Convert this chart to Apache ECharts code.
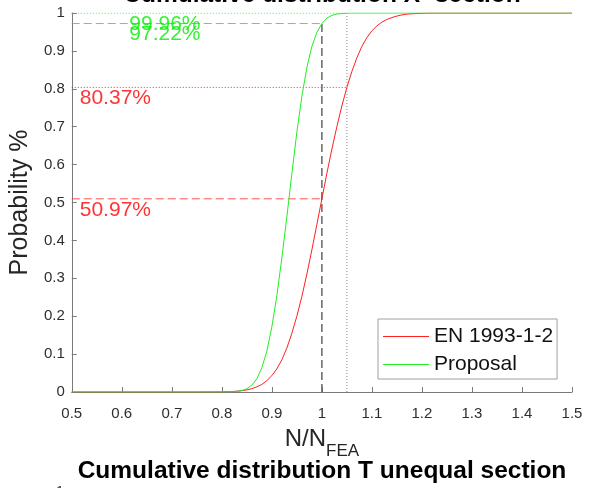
<!DOCTYPE html>
<html>
<head>
<meta charset="utf-8">
<script src="https://cdn.jsdelivr.net/npm/echarts@6/dist/echarts.min.js"></script>
<style>
  html, body { margin: 0; padding: 0; background: #fff; }
  #chart { width: 602px; height: 488px; }
</style>
</head>
<body>
<div id="chart"></div>
<script>
// N/N_FEA sample points shared by both cumulative curves
const ratio = [
  0.5, 0.6, 0.7, 0.75, 0.8, 0.82, 0.83,
  0.84, 0.85, 0.86, 0.87, 0.88, 0.89, 0.90, 0.91, 0.92, 0.93, 0.94, 0.95,
  0.96, 0.97, 0.98, 0.99, 1.00, 1.01, 1.02, 1.03, 1.04, 1.05, 1.06, 1.07,
  1.08, 1.09, 1.10, 1.11, 1.12, 1.13, 1.14, 1.15, 1.16, 1.17, 1.18,
  1.20, 1.22, 1.25, 1.3, 1.4, 1.5
];
// Cumulative probability, EN 1993-1-2
const probEN = [
  0, 0, 0, 0, 0.0004, 0.0012, 0.0022,
  0.0035, 0.0055, 0.0088, 0.0135, 0.020, 0.030, 0.043, 0.061, 0.085, 0.116, 0.155, 0.200,
  0.252, 0.311, 0.375, 0.442, 0.5097, 0.577, 0.641, 0.700, 0.755, 0.8037, 0.846, 0.882,
  0.912, 0.935, 0.953, 0.966, 0.976, 0.983, 0.988, 0.992, 0.995, 0.997, 0.998,
  0.9993, 0.9998, 1, 1, 1, 1
];
// Cumulative probability, proposed method
const probProposal = [
  0, 0, 0, 0, 0.0001, 0.0006, 0.0015,
  0.0038, 0.0085, 0.018, 0.035, 0.064, 0.108, 0.172, 0.254, 0.354, 0.462, 0.576, 0.686,
  0.780, 0.856, 0.912, 0.949, 0.9722, 0.9865, 0.9938, 0.9973, 0.9989, 0.9996, 0.9999, 1,
  1, 1, 1, 1, 1, 1, 1, 1, 1, 1, 1,
  1, 1, 1, 1, 1, 1
];
// Reference ratios and the probabilities read at them
const refRatio = [1.0, 1.05];
const pctEN = [50.97, 80.37];
const pctProposal = [97.22, 99.96];

const xTickLabels = ['0.5', '0.6', '0.7', '0.8', '0.9', '1', '1.1', '1.2', '1.3', '1.4', '1.5'];
const yTickLabels = ['0', '0.1', '0.2', '0.3', '0.4', '0.5', '0.6', '0.7', '0.8', '0.9', '1'];

const FONT = '"Liberation Sans", Arial, Helvetica, sans-serif';
const RED = '#ff2020';
const GREEN = '#22ee22';
const AXIS_CX = 322;   // horizontal centre of the plot area

const pairs = (ys) => ratio.map((x, i) => [x, ys[i]]);

function hLine(name, y, xEnd, color, type) {
  return {
    name, type: 'line', symbol: 'none', silent: true, z: 3,
    data: [[0.5, y], [xEnd, y]],
    lineStyle: { color, width: 1, type }
  };
}

function pctLabels(name, pcts, xAnchor, color) {
  return {
    name, type: 'scatter', symbolSize: 1, silent: true, z: 5,
    itemStyle: { color: 'transparent' },
    data: pcts.map(p => [xAnchor, p / 100]),
    label: {
      show: true,
      position: [0, 1],
      align: 'left',
      verticalAlign: 'top',
      fontFamily: FONT,
      fontSize: 21,
      color,
      formatter: (p) => (p.value[1] * 100).toFixed(2) + '%'
    }
  };
}

const chart = echarts.init(document.getElementById('chart'), null, { renderer: 'canvas' });

chart.setOption({
  animation: false,
  backgroundColor: '#fff',
  grid: { left: 71, right: 30, top: 13, bottom: 96 },
  xAxis: {
    type: 'value', min: 0.5, max: 1.5, interval: 0.1,
    axisLine: { lineStyle: { color: '#7a7a7a', width: 1 } },
    axisTick: { inside: true, length: 5, lineStyle: { color: '#7a7a7a' } },
    splitLine: { show: false },
    axisLabel: {
      margin: 14, fontFamily: FONT, fontSize: 15, color: '#2e2e2e',
      formatter: (v) => xTickLabels[Math.round((v - 0.5) * 10)]
    },
    name: '{a|N/N}{b|FEA}',
    nameLocation: 'middle',
    nameGap: 35,
    nameTextStyle: {
      rich: {
        a: { fontFamily: FONT, fontSize: 24, color: '#262626', verticalAlign: 'top', lineHeight: 24 },
        b: { fontFamily: FONT, fontSize: 17, color: '#262626', verticalAlign: 'top', lineHeight: 17, padding: [16, 0, 0, 0] }
      }
    }
  },
  yAxis: {
    type: 'value', min: 0, max: 1, interval: 0.1,
    axisLine: { show: true, lineStyle: { color: '#7a7a7a', width: 1 } },
    axisTick: { show: true, inside: true, length: 5, lineStyle: { color: '#7a7a7a' } },
    splitLine: { show: false },
    axisLabel: {
      margin: 7, fontFamily: FONT, fontSize: 15, color: '#2e2e2e',
      formatter: (v) => yTickLabels[Math.round(v * 10)]
    },
    name: 'Probability %',
    nameLocation: 'middle',
    nameGap: 34,
    nameTextStyle: { fontFamily: FONT, fontSize: 25, color: '#262626' }
  },
  legend: {
    data: ['EN 1993-1-2', 'Proposal'],
    orient: 'vertical',
    left: 378, top: 319,
    padding: [7, 4, 4, 5],
    itemGap: 7,
    icon: 'rect',
    itemWidth: 46, itemHeight: 1,
    itemTextGap: 4,
    backgroundColor: '#fff',
    borderColor: '#a0a0a0', borderWidth: 1, borderRadius: 0,
    textStyle: { fontFamily: FONT, fontSize: 21, color: '#111' },
    selectedMode: false
  },
  series: [
    {
      name: 'EN 1993-1-2', type: 'line', symbol: 'none', z: 4,
      data: pairs(probEN),
      lineStyle: { color: RED, width: 1 },
      itemStyle: { color: RED }
    },
    {
      name: 'Proposal', type: 'line', symbol: 'none', z: 4,
      data: pairs(probProposal),
      lineStyle: { color: GREEN, width: 1 },
      itemStyle: { color: GREEN }
    },
    hLine('en-ref-1', pctEN[0] / 100, refRatio[0], 'rgba(255,40,40,0.8)', [8, 4]),
    hLine('en-ref-2', pctEN[1] / 100, refRatio[1], 'rgba(255,30,30,0.95)', [1, 2]),
    hLine('prop-ref-1', pctProposal[0] / 100, refRatio[0], 'rgba(40,230,40,0.85)', [8, 4]),
    hLine('prop-ref-2', pctProposal[1] / 100, refRatio[1], 'rgba(40,230,40,0.95)', [1, 2]),
    {
      name: 'ratio-1', type: 'line', symbol: 'none', silent: true, z: 2,
      data: [[refRatio[0], 0], [refRatio[0], pctProposal[0] / 100]],
      lineStyle: { color: '#666', width: 1.5, type: [8, 4] }
    },
    {
      name: 'ratio-2', type: 'line', symbol: 'none', silent: true, z: 2,
      data: [[refRatio[1], 0], [refRatio[1], pctProposal[1] / 100]],
      lineStyle: { color: '#888', width: 1, type: [1, 2] }
    },
    pctLabels('en-pct', pctEN, 0.517, '#ff0000'),
    pctLabels('prop-pct', pctProposal, 0.616, '#00ee00')
  ],
  graphic: [
    {
      type: 'text', x: AXIS_CX, y: -17, silent: true,
      style: {
        text: 'Cumulative distribution X- section',
        font: 'bold 24.5px ' + FONT, fill: '#000', align: 'center'
      }
    },
    {
      type: 'text', x: AXIS_CX, y: 459, silent: true,
      style: {
        text: 'Cumulative distribution T unequal section',
        font: 'bold 24.5px ' + FONT, fill: '#000', align: 'center'
      }
    },
    {
      type: 'text', x: 64, y: 484, silent: true,
      style: { text: '1', font: '15px ' + FONT, fill: '#333', align: 'right' }
    }
  ]
});
</script>
</body>
</html>
